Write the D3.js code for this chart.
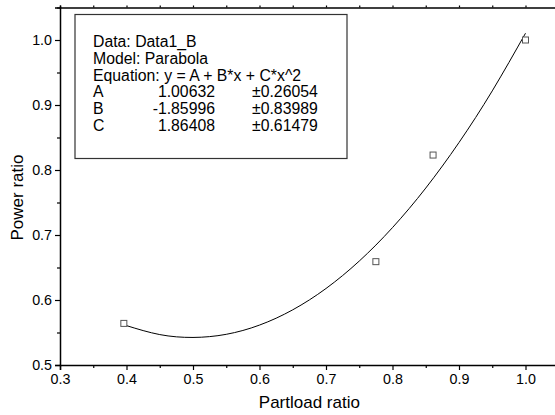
<!DOCTYPE html>
<html>
<head>
<meta charset="utf-8">
<script src="https://cdn.jsdelivr.net/npm/d3@7/dist/d3.min.js"></script>
<style>
  html, body { margin: 0; padding: 0; background: #fff; }
  svg { display: block; font-family: Arial, "Liberation Sans", sans-serif; }
</style>
</head>
<body>
<svg id="chart" width="555" height="415"></svg>
<script>
// ---- data ----
const pointX = [0.396, 0.775, 0.861, 1.0];
const pointY = [0.564, 0.659, 0.823, 1.0];
// fitted parabola as seen in the picture
const curveX = [0.40, 0.45, 0.50, 0.55, 0.60, 0.65, 0.70, 0.75, 0.80, 0.85, 0.90, 0.95, 1.00];
const curveY = [0.5606, 0.5468, 0.5424, 0.5472, 0.5614, 0.5849, 0.6177, 0.6599, 0.7114, 0.7722, 0.8423, 0.9217, 1.0104];
const xTicks = [0.3, 0.4, 0.5, 0.6, 0.7, 0.8, 0.9, 1.0];
const xMinor = [0.35, 0.45, 0.55, 0.65, 0.75, 0.85, 0.95, 1.05];
const yTicks = [0.5, 0.6, 0.7, 0.8, 0.9, 1.0];
const yMinor = [0.55, 0.65, 0.75, 0.85, 0.95, 1.05];
const legendLines = ["Data: Data1_B", "Model: Parabola", "Equation: y = A + B*x + C*x^2"];
const paramNames = ["A", "B", "C"];
const paramValues = ["1.00632", "-1.85996", "1.86408"];
const paramErrors = ["0.26054", "0.83989", "0.61479"];
const xTitle = "Partload ratio";
const yTitle = "Power ratio";

// ---- drawing ----
const svg = d3.select("#chart");
const x = d3.scaleLinear().domain([0.3, 1.05]).range([60, 558.75]);
const y = d3.scaleLinear().domain([0.5, 1.05]).range([365, 7.5]);
const fmt = d3.format(".1f");

// bottom axis
const gx = svg.append("g").attr("transform", `translate(0,${y(0.5)})`);
gx.call(d3.axisBottom(x).tickValues(xTicks).tickFormat(fmt).tickSize(5).tickPadding(4));
gx.append("g").call(d3.axisBottom(x).tickValues(xMinor).tickFormat("").tickSize(3))
  .select(".domain").remove();
// left axis
const gy = svg.append("g").attr("transform", `translate(${x(0.3)},0)`);
gy.call(d3.axisLeft(y).tickValues(yTicks).tickFormat(fmt).tickSize(5).tickPadding(3));
gy.append("g").call(d3.axisLeft(y).tickValues(yMinor).tickFormat("").tickSize(3))
  .select(".domain").remove();
// top axis
const gt = svg.append("g").attr("transform", `translate(0,${y(1.05)})`);
gt.call(d3.axisTop(x).tickValues(xTicks.concat(xMinor)).tickFormat("").tickSize(2));

svg.selectAll(".domain").attr("stroke", "#000").attr("stroke-width", 1.5);
svg.selectAll(".tick line").attr("stroke", "#000").attr("stroke-width", 1.2);
svg.selectAll(".tick text").attr("font-size", 14.3).attr("fill", "#000")
  .attr("font-family", "Arial, 'Liberation Sans', sans-serif");

// axis titles
svg.append("text").attr("x", (x(0.3) + x(1.05)) / 2).attr("y", 408)
  .attr("text-anchor", "middle").attr("font-size", 17).text(xTitle);
svg.append("text").attr("transform", `translate(23,197.5) rotate(-90)`)
  .attr("text-anchor", "middle").attr("font-size", 17).text(yTitle);

// fit curve
const line = d3.line().x((d, i) => x(curveX[i])).y(d => y(d)).curve(d3.curveNatural);
svg.append("path").datum(curveY).attr("d", line)
  .attr("fill", "none").attr("stroke", "#000").attr("stroke-width", 1);

// data points
const s = 6;
svg.selectAll("rect.pt").data(pointY).enter().append("rect").attr("class", "pt")
  .attr("x", (d, i) => x(pointX[i]) - s / 2).attr("y", d => y(d) - s / 2)
  .attr("width", s).attr("height", s)
  .attr("fill", "#fff").attr("stroke", "#555").attr("stroke-width", 1);

// legend box
const lg = svg.append("g");
lg.append("rect").attr("x", 75).attr("y", 14.5).attr("width", 272).attr("height", 144)
  .attr("fill", "#fff").attr("stroke", "#333").attr("stroke-width", 1.2);
const lh = 16.8, ly0 = 47;
const fs = 15.8;
lg.selectAll("text.ln").data(legendLines).enter().append("text").attr("class", "ln")
  .attr("x", 93).attr("y", (d, i) => ly0 + i * lh).attr("font-size", fs).text(d => d);
paramNames.forEach((n, i) => {
  const yy = ly0 + (i + 3) * lh;
  lg.append("text").attr("x", 93).attr("y", yy).attr("font-size", fs).text(n);
  lg.append("text").attr("x", 215).attr("y", yy).attr("font-size", fs)
    .attr("text-anchor", "end").text(paramValues[i]);
  lg.append("text").attr("x", 252).attr("y", yy).attr("font-size", fs)
    .text("\u00B1" + paramErrors[i]);
});
</script>
</body>
</html>
